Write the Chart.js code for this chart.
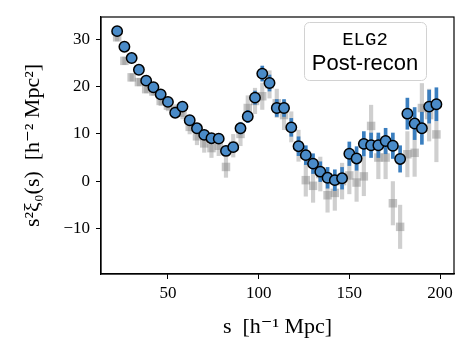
<!DOCTYPE html>
<html>
<head>
<meta charset="utf-8">
<script src="https://cdn.jsdelivr.net/npm/chart.js"></script>
<style>
body{margin:0;background:#fff;}
</style>
</head>
<body>
<canvas id="xiChart" width="473" height="355"></canvas>
<script>
// separation bins, h^-1 Mpc
const sBins = [22,26,30,34,38,42,46,50,54,58,62,66,70,74,78,82,86,90,94,98,102,106,
110,114,118,122,126,130,134,138,142,146,150,154,158,162,166,170,174,178,182,186,190,194,198];

// blue circles (ELG2 post-recon)
const postRecon = [31.8,28.5,26.1,23.6,21.3,19.9,18.4,16.8,14.5,15.8,12.9,11.2,9.8,9.1,9.0,6.4,7.2,11.2,13.7,17.7,22.8,20.8,
15.5,15.5,11.4,7.4,5.5,3.7,2.0,0.7,0.2,0.6,5.8,4.8,7.9,7.6,7.6,8.5,7.5,4.7,14.3,12.2,11.2,15.8,16.3];
const postReconErr = [0.4,0.4,0.4,0.4,0.4,0.4,0.4,0.4,0.4,0.7,0.7,0.7,0.7,0.7,0.7,1.0,1.0,1.2,1.3,1.4,1.6,1.7,
1.8,1.8,1.9,2.0,2.0,2.1,2.1,2.2,2.2,2.3,2.5,2.5,2.6,2.6,2.6,2.7,2.7,2.8,3.3,3.4,3.4,3.5,3.5];

// grey squares in the background
const greyPts = [30.5,25.5,22,21,19.5,19,17,16,15,14.5,11.5,9.5,8,7,7.5,3,7.5,10,15.5,17,18,20.5,
16.5,14,11.5,7.5,0.2,-1,1.5,-3,-2.5,0,1.2,-0.3,1,11.7,5,5,-4.7,-9.7,5.7,6,15.5,14,9.9];
const greyErr = [0.8,0.8,0.8,0.8,0.8,0.8,1.0,1.1,1.2,1.3,1.5,1.8,1.9,2.0,2.1,2.2,2.4,2.5,2.6,2.7,2.8,2.9,
3.0,3.1,3.2,3.3,3.4,3.5,3.6,3.6,3.7,3.8,3.9,4.0,4.1,4.4,4.5,4.5,4.6,4.6,4.8,5.0,5.2,5.5,5.8];

const xTicks = [50,100,150,200];
const yTicks = [-10,0,10,20,30];

const pts = (vals) => sBins.map((s,i) => ({x:s, y:vals[i]}));
const errBars = (vals,errs) => sBins.map((s,i) => ({x:s, y:[vals[i]-errs[i], vals[i]+errs[i]]}));

const serif = '"Liberation Serif", "DejaVu Serif", serif';

// axes frame on all four sides
const frame = {
  id:'frame',
  afterDatasetsDraw(chart){
    const {ctx, chartArea:a} = chart;
    ctx.save();
    ctx.strokeStyle = '#000';
    ctx.lineWidth = 1.2;
    ctx.strokeRect(a.left, a.top, a.right-a.left, a.bottom-a.top);
    ctx.restore();
  }
};

// text box top right
const labelBox = {
  id:'labelBox',
  afterDraw(chart){
    const {ctx, chartArea:a} = chart;
    const x = a.right - 150, y = a.top + 5, w = 122, h = 58;
    ctx.save();
    ctx.beginPath();
    ctx.roundRect(x+0.5, y+0.5, w, h, 5);
    ctx.fillStyle = 'rgba(255,255,255,0.85)';
    ctx.fill();
    ctx.strokeStyle = '#d2d2d2';
    ctx.lineWidth = 1;
    ctx.stroke();
    ctx.fillStyle = '#000';
    ctx.textAlign = 'center';
    ctx.textBaseline = 'alphabetic';
    ctx.font = '19px "Liberation Mono", monospace';
    ctx.fillText('ELG2', x + w/2, y + 23);
    ctx.font = '22px "Liberation Sans", Arial, sans-serif';
    ctx.fillText('Post-recon', x + w/2, y + 48);
    ctx.restore();
  }
};

new Chart(
document.getElementById("xiChart"),
{
type:"scatter",
data:{
datasets:[
{
type:"bar",
label:"grey err",
data:errBars(greyPts,greyErr),
backgroundColor:"rgba(128,128,128,0.38)",
barThickness:3.5,
grouped:false,
order:4
},
{
type:"scatter",
label:"grey",
data:pts(greyPts),
pointStyle:"rect",
pointRadius:6,
backgroundColor:"rgba(128,128,128,0.45)",
borderWidth:0,
order:3
},
{
type:"bar",
label:"blue err",
data:errBars(postRecon,postReconErr),
backgroundColor:"#3a7ebf",
barThickness:3,
grouped:false,
order:2
},
{
type:"scatter",
label:"Post-recon",
data:pts(postRecon),
pointRadius:5.2,
backgroundColor:"#4a8bc8",
borderColor:"#000",
borderWidth:1.5,
order:1
}
]
},
options:{
responsive:false,
animation:false,
layout:{padding:{left:0,right:19,top:17,bottom:0}},
plugins:{legend:{display:false},tooltip:{enabled:false}},
scales:{
x:{
type:"linear",
offset:false,
min:13.1,
max:207.7,
afterFit(scale){ scale.height = 81; },
afterBuildTicks(scale){ scale.ticks = xTicks.map(v => ({value:v})); },
grid:{drawOnChartArea:false,offset:false,color:"#000",tickLength:5,lineWidth:1},
border:{color:"#000",width:1.2},
ticks:{color:"#000",font:{family:serif,size:17},padding:4,maxRotation:0},
title:{display:true,text:"s  [h⁻¹ Mpc]",color:"#000",font:{family:serif,size:22},padding:{top:0,bottom:15}}
},
y:{
min:-19.7,
max:34.8,
afterFit(scale){ scale.width = 101; },
afterBuildTicks(scale){ scale.ticks = yTicks.map(v => ({value:v})); },
grid:{drawOnChartArea:false,color:"#000",tickLength:5,lineWidth:1},
border:{color:"#000",width:1.2},
ticks:{color:"#000",font:{family:serif,size:17},padding:6,
callback:(v) => v < 0 ? "\u2212" + Math.abs(v) : String(v)},
title:{display:true,text:"s²ξ₀(s)  [h⁻² Mpc²]",color:"#000",font:{family:serif,size:22},padding:{top:20,bottom:0}}
}
}
},
plugins:[frame,labelBox]
});
</script>
</body>
</html>
